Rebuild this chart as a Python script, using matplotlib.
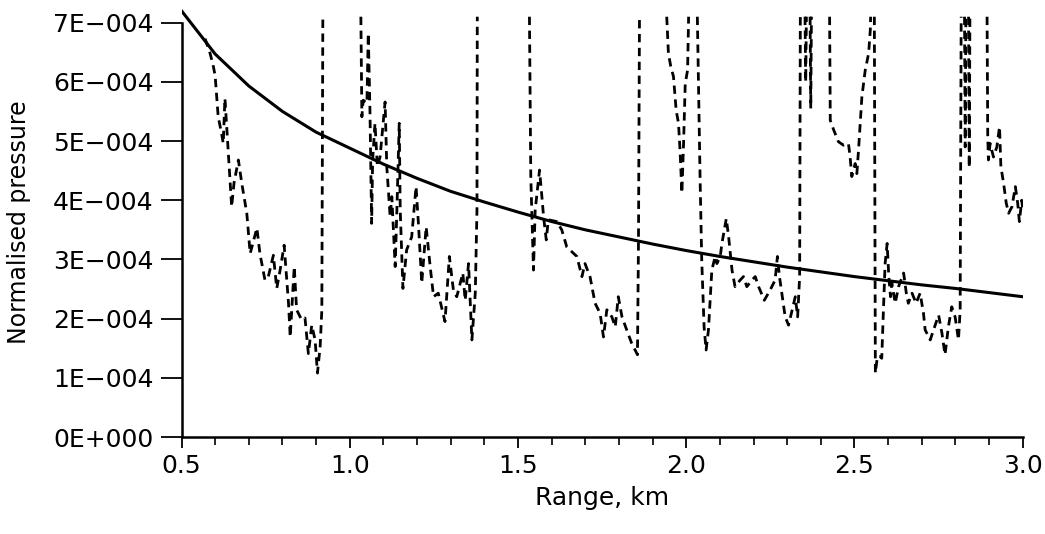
import numpy as np
import matplotlib
matplotlib.use("Agg")
from matplotlib import pyplot as plt

# Smooth reference curve (normalised pressure x 1e-4 vs range in km)
ref_range = [0.5, 0.6, 0.7, 0.8, 0.9, 1.0, 1.1, 1.2, 1.3, 1.4, 1.5, 1.6, 1.7,
             1.8, 1.9, 2.0, 2.1, 2.2, 2.3, 2.4, 2.5, 2.6, 2.7, 2.8, 2.9, 3.0]
ref_press = [7.20, 6.47, 5.93, 5.50, 5.15, 4.88, 4.61, 4.37, 4.15, 3.97, 3.80,
             3.64, 3.50, 3.38, 3.26, 3.15, 3.05, 2.96, 2.87, 2.79, 2.71, 2.64,
             2.57, 2.51, 2.44, 2.37]

# Measured (dashed) curve, split where it runs off the top of the plot
seg_a_x = [0.570, 0.585, 0.595, 0.600, 0.609, 0.619, 0.624, 0.629, 0.634, 0.649,
           0.656, 0.669, 0.679, 0.694, 0.704, 0.724, 0.733, 0.748, 0.758, 0.773,
           0.783, 0.793, 0.805, 0.818, 0.823, 0.835, 0.842, 0.857, 0.867, 0.877,
           0.887, 0.897, 0.904, 0.912, 0.917, 0.920]
seg_a_y = [6.73, 6.48, 6.25, 6.10, 5.41, 5.13, 4.96, 5.72, 5.27, 3.89,
           4.29, 4.68, 4.29, 3.78, 3.10, 3.53, 3.10, 2.65, 2.71, 3.07,
           2.51, 2.82, 3.24, 2.26, 1.69, 2.88, 2.15, 1.98, 2.01, 1.41,
           1.89, 1.64, 1.08, 1.53, 2.15, 7.10]

seg_b_x = [1.033, 1.036, 1.040, 1.051, 1.055, 1.060, 1.065, 1.068, 1.075, 1.082,
           1.090, 1.105, 1.110, 1.120, 1.125, 1.135, 1.140, 1.147, 1.150, 1.158,
           1.169, 1.184, 1.197, 1.204, 1.214, 1.227, 1.239, 1.249, 1.263, 1.283,
           1.296, 1.308, 1.318, 1.336, 1.343, 1.353, 1.363, 1.373, 1.378, 1.379]
seg_b_y = [7.10, 5.41, 5.69, 5.64, 6.82, 5.52, 3.61, 4.68, 5.30, 4.57,
           4.73, 5.66, 4.57, 3.72, 4.06, 2.88, 3.83, 5.30, 3.83, 2.51,
           3.16, 3.38, 4.23, 3.61, 2.60, 3.55, 2.88, 2.37, 2.43, 1.95,
           3.05, 2.48, 2.37, 2.77, 2.31, 2.93, 1.64, 2.43, 3.83, 7.10]

seg_c_x = [1.534, 1.538, 1.546, 1.551, 1.564, 1.571, 1.576, 1.584, 1.590, 1.615,
           1.630, 1.645, 1.675, 1.690, 1.699, 1.714, 1.729, 1.744, 1.754, 1.764,
           1.779, 1.789, 1.798, 1.809, 1.823, 1.838, 1.848, 1.855, 1.858, 1.861]
seg_c_y = [7.10, 4.40, 2.82, 3.83, 4.51, 4.06, 3.72, 3.33, 3.67, 3.64,
           3.50, 3.21, 3.05, 2.71, 2.93, 2.71, 2.26, 2.09, 1.69, 2.15,
           2.03, 1.86, 2.37, 2.03, 1.81, 1.58, 1.47, 1.39, 3.27, 7.10]

seg_d_x = [1.942, 1.947, 1.954, 1.962, 1.970, 1.977, 1.982, 1.987, 1.992, 1.997,
           2.004, 2.007]
seg_d_y = [7.10, 6.48, 6.26, 6.09, 5.52, 5.30, 4.79, 4.12, 4.96, 5.97,
           6.20, 7.10]

seg_e_x = [2.033, 2.041, 2.046, 2.053, 2.059, 2.066, 2.076, 2.086, 2.091, 2.101,
           2.106, 2.119, 2.126, 2.136, 2.145, 2.160, 2.170, 2.180, 2.195, 2.205,
           2.215, 2.232, 2.249, 2.264, 2.271, 2.277, 2.284, 2.294, 2.304, 2.317,
           2.324, 2.331, 2.337, 2.339]
seg_e_y = [7.10, 4.40, 2.99, 1.86, 1.47, 1.81, 2.82, 3.05, 2.93, 3.05,
           3.27, 3.69, 3.38, 2.82, 2.54, 2.65, 2.71, 2.54, 2.65, 2.71,
           2.54, 2.31, 2.48, 2.65, 3.05, 2.71, 2.43, 2.03, 1.89, 2.20,
           2.37, 2.03, 2.71, 7.10]

seg_f_x = [2.353, 2.355, 2.357]
seg_f_y = [7.10, 6.00, 7.10]

seg_g_x = [2.368, 2.370, 2.372]
seg_g_y = [7.10, 5.55, 7.10]

seg_h_x = [2.426, 2.428, 2.438, 2.452, 2.467, 2.482, 2.487, 2.492, 2.502, 2.507,
           2.512, 2.522, 2.532, 2.542, 2.547, 2.548]
seg_h_y = [7.10, 5.35, 5.19, 4.99, 4.93, 4.96, 4.73, 4.40, 4.62, 4.45,
           4.85, 5.75, 6.20, 6.48, 6.88, 7.10]

seg_i_x = [2.559, 2.562, 2.568, 2.576, 2.581, 2.586, 2.591, 2.597, 2.602, 2.607,
           2.611, 2.621, 2.631, 2.646, 2.654, 2.660, 2.671, 2.683, 2.695, 2.705,
           2.710, 2.725, 2.735, 2.750, 2.760, 2.769, 2.779, 2.789, 2.799, 2.809,
           2.814, 2.817]
seg_i_y = [7.10, 1.08, 1.36, 1.36, 1.33, 2.15, 2.93, 3.27, 2.71, 2.37,
           2.60, 2.26, 2.54, 2.77, 2.43, 2.26, 2.43, 2.26, 2.43, 2.09,
           1.81, 1.64, 1.81, 2.06, 1.75, 1.39, 1.86, 2.20, 2.03, 1.64,
           2.15, 7.10]

seg_j_x = [2.827, 2.829, 2.831]
seg_j_y = [7.10, 4.90, 7.10]

seg_k_x = [2.839, 2.841, 2.843]
seg_k_y = [7.10, 4.55, 7.10]

seg_l_x = [2.894, 2.896, 2.898, 2.903, 2.913, 2.923, 2.931, 2.935, 2.943, 2.951,
           2.958, 2.968, 2.978, 2.985, 2.990, 2.997, 3.000]
seg_l_y = [7.10, 5.07, 4.68, 4.96, 4.73, 4.90, 5.24, 4.57, 4.29, 3.95,
           3.78, 3.89, 4.23, 3.95, 3.64, 4.00, 3.85]

segments = [(seg_a_x, seg_a_y), (seg_b_x, seg_b_y), (seg_c_x, seg_c_y),
            (seg_d_x, seg_d_y), (seg_e_x, seg_e_y), (seg_f_x, seg_f_y),
            (seg_g_x, seg_g_y), (seg_h_x, seg_h_y), (seg_i_x, seg_i_y),
            (seg_j_x, seg_j_y), (seg_k_x, seg_k_y), (seg_l_x, seg_l_y)]

y_ticks = [0, 1, 2, 3, 4, 5, 6, 7]
y_tick_labels = ["0E+000", "1E\u2212004", "2E\u2212004", "3E\u2212004",
                 "4E\u2212004", "5E\u2212004", "6E\u2212004", "7E\u2212004"]
x_ticks = [0.5, 1.0, 1.5, 2.0, 2.5, 3.0]
x_tick_labels = ["0.5", "1.0", "1.5", "2.0", "2.5", "3.0"]

scale = 1e-4

plt.rcParams['font.family'] = ['DejaVu Sans']
fig = plt.figure(figsize=(10.45, 5.34), dpi=100)
ax = fig.add_axes([0.1737, 0.1816, 0.8050, 0.8037])

ax.plot(ref_range, np.array(ref_press) * scale, color="black", lw=2.2)
for sx, sy in segments:
    ax.plot(sx, np.array(sy) * scale, color="black", lw=2.0,
            linestyle=(0, (3, 2)))

ax.set_xlim(0.5, 3.0)
ax.set_ylim(0, 7.25 * scale)

for side in ["top", "right"]:
    ax.spines[side].set_visible(False)
ax.spines["left"].set_bounds(0, 7 * scale)
ax.spines["left"].set_linewidth(1.8)
ax.spines["bottom"].set_linewidth(1.8)

ax.set_xticks(x_ticks)
ax.set_xticklabels(x_tick_labels)
ax.set_xticks(np.arange(0.5, 3.01, 0.1), minor=True)
ax.set_yticks(np.array(y_ticks) * scale)
ax.set_yticklabels(y_tick_labels)

ax.tick_params(axis="x", which="major", direction="out", length=8, width=1.3,
               pad=4, labelsize=18)
ax.tick_params(axis="x", which="minor", direction="out", length=6, width=1.2)
ax.tick_params(axis="y", which="major", direction="out", length=15, width=1.3,
               pad=5, labelsize=18)

ax.set_xlabel("Range, km", fontsize=18, labelpad=6)
ax.set_ylabel("Normalised pressure", fontsize=17, labelpad=16)

fig.savefig("out.png", dpi=100)
